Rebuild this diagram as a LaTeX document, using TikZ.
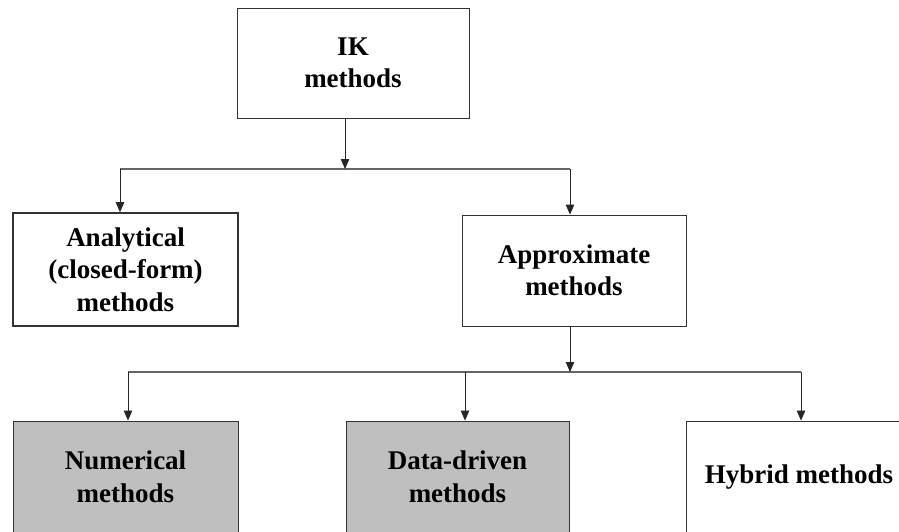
\documentclass[tikz,border=0pt]{standalone}
\usepackage{fontspec}
\setmainfont{Liberation Serif}
\usetikzlibrary{arrows.meta}
\begin{document}
\begin{tikzpicture}[x=1pt,y=-1pt,
  box/.style={draw=black!80, line width=0.9pt, rectangle, align=center,
    font=\fontsize{27}{32.5}\selectfont\bfseries, inner sep=0pt},
  shaded/.style={box, fill=black!25},
  arr/.style={line width=0.9pt, draw=black!85,
    -{Triangle[length=10pt,width=8.5pt]}},
  rail/.style={line width=1.1pt, draw=black!60}]
\useasboundingbox (0,0) rectangle (899,531);
\clip (0,0) rectangle (899,531);

% top level
\node[box, minimum width=232pt, minimum height=110pt] (ik) at (353,63)
  {IK\\methods};

% second level
\node[box, line width=1.6pt, minimum width=225pt, minimum height=113pt] (an)
  at (125.5,269.5) {Analytical\\(closed-form)\\methods};
\node[box, minimum width=224pt, minimum height=111pt] (ap) at (574,270.5)
  {Approximate\\methods};

% third level
\node[shaded, minimum width=225pt, minimum height=112pt] (nu) at (125.5,477)
  {Numerical\\methods};
\node[shaded, minimum width=223pt, minimum height=112pt] (dd) at (457.5,477)
  {Data-driven\\methods};
\node[box, minimum width=226pt, minimum height=112pt] (hy) at (799,477)
  {Hybrid methods};

% junctions
\coordinate (j1) at (345,169);
\coordinate (l1) at (120,169);
\coordinate (r1) at (570,169);
\coordinate (j2) at (570,372);
\coordinate (l2) at (128,372);
\coordinate (m2) at (465,372);
\coordinate (r2) at (801,372);

% connectors, first split
\draw[rail] (l1) -- (r1);
\draw[arr] (ik.south -| j1) -- (j1);
\draw[arr] (l1) -- (l1 |- an.north);
\draw[arr] (r1) -- (r1 |- ap.north);

% connectors, second split
\draw[rail] (l2) -- (r2);
\draw[arr] (ap.south -| j2) -- (j2);
\draw[arr] (l2) -- (l2 |- nu.north);
\draw[arr] (m2) -- (m2 |- dd.north);
\draw[arr] (r2) -- (r2 |- hy.north);
\end{tikzpicture}
\end{document}
